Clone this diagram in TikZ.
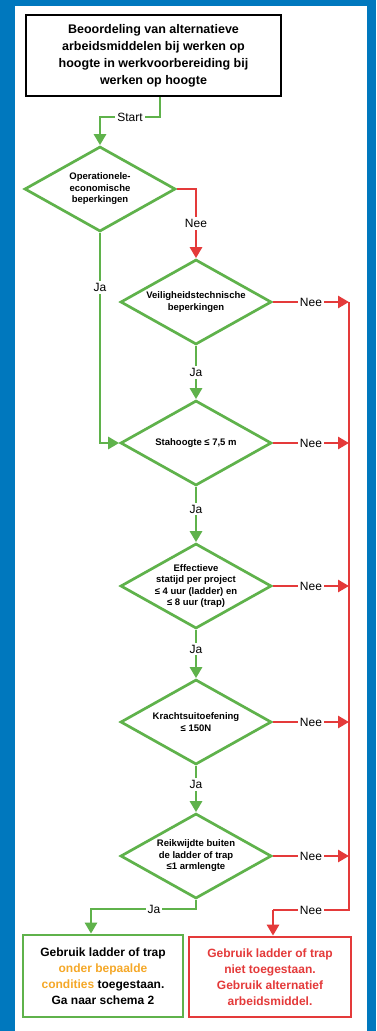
\documentclass[tikz,border=0pt]{standalone}
\usepackage{fontspec}
\setmainfont{Liberation Sans}
\usetikzlibrary{shapes.geometric,arrows.meta}

\definecolor{oblue}{RGB}{0,120,190}
\definecolor{ogreen}{RGB}{95,178,75}
\definecolor{ored}{RGB}{228,58,58}
\definecolor{oorange}{RGB}{245,168,40}

\tikzset{
    decision/.style={draw=ogreen, line width=2.7pt, shape=diamond,
        minimum width=151pt, minimum height=85pt, inner sep=0pt},
    qtext/.style={font=\bfseries\fontsize{9.5}{11.5}\selectfont, align=center, inner sep=0pt},
    yes/.style={draw=ogreen, line width=2.7pt, -{Triangle[width=12pt,length=11pt]}},
    no/.style={draw=ored, line width=2.7pt, -{Triangle[width=12pt,length=11pt]}},
    noline/.style={draw=ored, line width=2.7pt},
    lbl/.style={fill=white, font=\fontsize{12}{12}\selectfont, inner sep=2pt},
    endbox/.style={line width=2.7pt, align=center, inner sep=0pt,
        font=\bfseries\fontsize{12}{16}\selectfont},
}

\begin{document}
\begin{tikzpicture}[x=1pt, y=-1pt]
    % frame
    \fill[oblue] (0,0) rectangle (376,1031);
    \fill[white] (15,6) rectangle (367,1031);

    \node[draw, line width=2.7pt, minimum width=255pt, minimum height=81pt, align=center,
        font=\bfseries\fontsize{12.5}{17}\selectfont] (title) at (153.5,55.5)
        {Beoordeling van alternatieve\\arbeidsmiddelen bij werken op\\hoogte in werkvoorbereiding bij\\werken op hoogte};

    \node[decision, label={[qtext]center:{Operationele-\\economische\\beperkingen}}] (q1) at (100,189) {};
    \node[decision, label={[qtext]center:{Veiligheidstechnische\\beperkingen}}] (q2) at (196,302) {};
    \node[decision, label={[qtext]center:{Stahoogte ≤ 7,5 m}}] (q3) at (196,443) {};
    \node[decision, label={[qtext]center:{Effectieve\\statijd per project\\≤ 4 uur (ladder) en\\≤ 8 uur (trap)}}] (q4) at (196,586) {};
    \node[decision, label={[qtext]center:{Krachtsuitoefening\\≤ 150N}}] (q5) at (196,722) {};
    \node[decision, label={[qtext]center:{Reikwijdte buiten\\de ladder of trap\\≤1 armlengte}}] (q6) at (196,856) {};

    \node[endbox, draw=ogreen, minimum width=160pt, minimum height=82pt] (ok) at (103,976)
        {Gebruik ladder of trap\\\textcolor{oorange}{onder bepaalde}\\\textcolor{oorange}{condities} toegestaan.\\Ga naar schema 2};
    \node[endbox, draw=ored, text=ored, minimum width=162pt, minimum height=80pt] (bad) at (270,977)
        {Gebruik ladder of trap\\niet toegestaan.\\Gebruik alternatief\\arbeidsmiddel.};

    \coordinate (s1) at (160,117);
    \coordinate (s2) at (100,117);
    \coordinate (rail) at (349,910);
    \coordinate (n1) at (273,910);
    \coordinate (j1) at (91,909);

    % Ja
    \draw[yes] (title.south -| s1) -- (s1) -- node[lbl]{Start} (s2) -- (q1.north);
    \draw[yes] (q1.south) |- node[lbl, pos=0.13]{Ja} (q3.west);
    \draw[yes] (q2.south) -- node[lbl]{Ja} (q3.north);
    \draw[yes] (q3.south) -- node[lbl, pos=0.4]{Ja} (q4.north);
    \draw[yes] (q4.south) -- node[lbl, pos=0.4]{Ja} (q5.north);
    \draw[yes] (q5.south) -- node[lbl, pos=0.4]{Ja} (q6.north);
    \draw[yes] (q6.south) -- (q6.south |- j1) -- node[lbl, pos=0.4]{Ja} (j1) -- (j1 |- ok.north);

    % Nee
    \draw[no] (q1.east) -| node[lbl, pos=0.75]{Nee} (q2.north);
    \draw[noline] (q2.east -| rail) -- (rail) -- node[lbl]{Nee} (n1);
    \draw[no] (n1) -- (n1 |- bad.north);
    \foreach \q in {q2,q3,q4,q5,q6}
        \draw[no] (\q.east) -- node[lbl]{Nee} (\q.east -| rail);
\end{tikzpicture}
\end{document}
